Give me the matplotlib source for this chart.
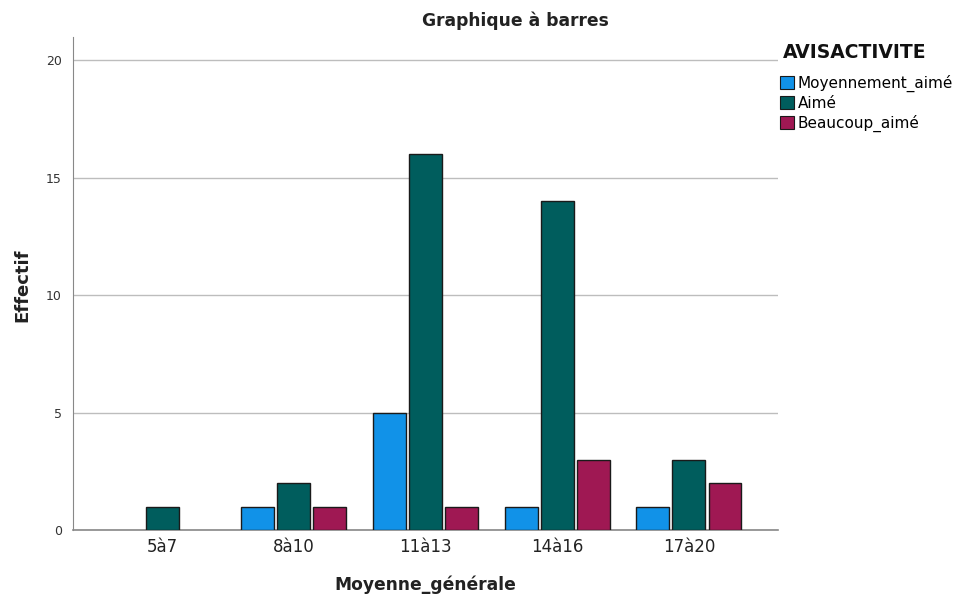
import numpy as np
import matplotlib
matplotlib.use("Agg")
import matplotlib.pyplot as plt
from matplotlib.patches import Patch

categories = ["5à7", "8à10", "11à13", "14à16", "17à20"]
series = ["Moyennement_aimé", "Aimé", "Beaucoup_aimé"]
moyennement = [0, 1, 5, 1, 1]
aime = [1, 2, 16, 14, 3]
beaucoup = [0, 1, 1, 3, 2]
colors = ["#1192e8", "#005d5d", "#9f1853"]

fig = plt.figure(figsize=(9.57, 5.98), dpi=100)
ax = fig.add_axes([0.0763, 0.1137, 0.7367, 0.8244])

x = np.arange(len(categories))
offset = 0.274
width = 0.25
for i, (vals, col) in enumerate(zip([moyennement, aime, beaucoup], colors)):
    vals = np.array(vals, dtype=float)
    keep = vals > 0
    ax.bar(x[keep] + (i - 1) * offset, vals[keep], width=width, color=col,
           edgecolor="#1a1a1a", linewidth=1.0, zorder=3)

ax.set_xlim(-0.677, 4.677)
ax.set_ylim(0, 21)
ax.set_yticks([0, 5, 10, 15, 20])
ax.set_xticks(x)
ax.set_xticklabels(categories, fontsize=12)
ax.tick_params(axis="y", labelsize=9, length=0, pad=8, colors="#333333")
ax.tick_params(axis="x", length=0, pad=6, colors="#222222")
ax.yaxis.grid(True, color="#bdbdbd", linewidth=1, zorder=0)
for s in ["top", "right"]:
    ax.spines[s].set_visible(False)
ax.spines["left"].set_color("#888888")
ax.spines["bottom"].set_color("#888888")
ax.spines["bottom"].set_linewidth(1.2)

fig.text(0.539, 0.965, "Graphique à barres", ha="center", va="center",
         fontsize=12.3, fontweight="bold", color="#222222")
fig.text(0.023, 0.523, "Effectif", rotation=90, ha="center", va="center",
         fontsize=13, fontweight="bold", color="#222222")
fig.text(0.444, 0.022, "Moyenne_générale", ha="center", va="center",
         fontsize=12.3, fontweight="bold", color="#222222")

# legend title drawn on its own, entries below
fig.text(0.818, 0.913, "AVISACTIVITE", ha="left", va="center",
         fontsize=13.5, fontweight="bold", color="#111111")
handles = [Patch(facecolor=c, edgecolor="#1a1a1a", linewidth=0.8) for c in colors]
fig.legend(handles, series, loc="upper left", bbox_to_anchor=(0.815, 0.875),
           frameon=False, fontsize=11, handlelength=0.9, handleheight=0.9,
           handletextpad=0.25, labelspacing=0.25, borderaxespad=0,
           borderpad=0)

fig.savefig("out.png", dpi=100)
